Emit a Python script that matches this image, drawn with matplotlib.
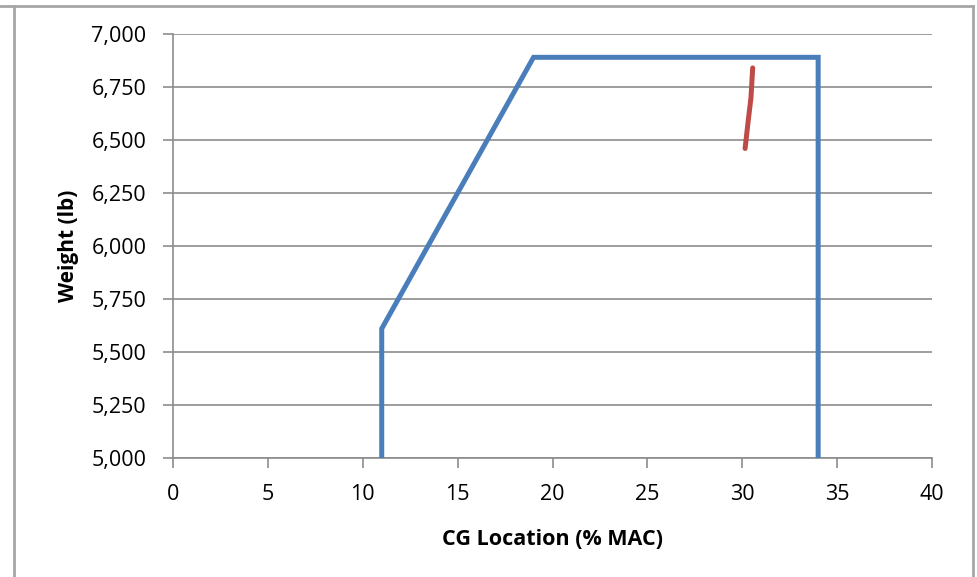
import matplotlib.pyplot as plt
from matplotlib.lines import Line2D

# CG envelope (blue) and loading path (red)
env_cg = [11, 11, 19, 34, 34]
env_wt = [5000, 5610, 6890, 6890, 5000]
path_cg = [30.15, 30.3, 30.46, 30.55]
path_wt = [6460, 6580, 6700, 6840]

x_ticks = [0, 5, 10, 15, 20, 25, 30, 35, 40]
y_ticks = [5000, 5250, 5500, 5750, 6000, 6250, 6500, 6750, 7000]

plt.rcParams['font.family'] = ['Open Sans', 'DejaVu Sans']

fig = plt.figure(figsize=(9.77, 5.77), dpi=100)
ax = fig.add_axes([173 / 977, 1 - 458 / 577, (932 - 173) / 977, (458 - 34) / 577])

ax.plot(env_cg, env_wt, color='#4a7ebb', lw=3.6, solid_joinstyle='miter', zorder=3)
ax.plot(path_cg, path_wt, color='#be4b48', lw=3.6, solid_capstyle='round', zorder=3)

ax.set_xlim(0, 40)
ax.set_ylim(5000, 7000)
ax.set_xticks(x_ticks)
ax.set_yticks(y_ticks)
ax.set_yticklabels([f"{v:,}" for v in y_ticks])
ax.grid(axis='y', color='#8c8c8c', lw=1.2)
ax.set_axisbelow(True)

for s in ['top', 'right']:
    ax.spines[s].set_visible(False)
for s in ['left', 'bottom']:
    ax.spines[s].set_color('#8c8c8c')
    ax.spines[s].set_linewidth(1.2)
ax.tick_params(colors='#8c8c8c', labelcolor='black', labelsize=15.5, length=7, width=1.2)
ax.tick_params(axis='x', pad=12)
ax.tick_params(axis='y', pad=12)

ax.set_xlabel('CG Location (% MAC)', fontsize=15.5, fontweight='bold', labelpad=17)
ax.set_ylabel('Weight (lb)', fontsize=15, fontweight='bold', labelpad=9)

# chart area frame
W, H = 977, 577
frame = dict(color='#a6a6a6', lw=2, transform=fig.transFigure)
fig.add_artist(Line2D([0, 973 / W], [1 - 6 / H, 1 - 6 / H], **frame))
fig.add_artist(Line2D([14 / W, 14 / W], [1 - 6 / H, 0], **frame))
fig.add_artist(Line2D([973 / W, 973 / W], [1 - 6 / H, 0], **frame))

fig.savefig('out.png', dpi=100)
